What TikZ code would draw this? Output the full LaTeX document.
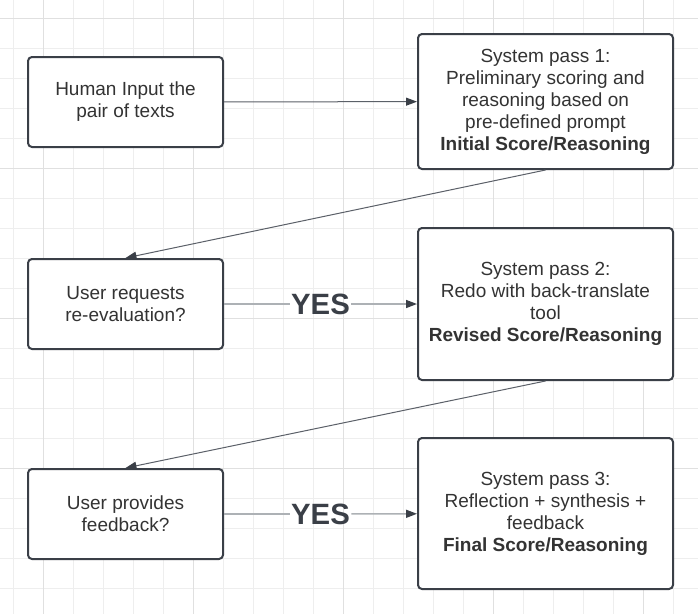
\documentclass[tikz,border=0pt]{standalone}
\usepackage{fontspec}
\setmainfont{Liberation Sans}
\usetikzlibrary{arrows.meta}
\definecolor{boxline}{HTML}{3A3F47}
\definecolor{linkline}{HTML}{5B6068}
\definecolor{yesgrey}{HTML}{ADB1B5}
\definecolor{textgrey}{HTML}{333333}
\definecolor{gridminor}{HTML}{EEEEEE}
\definecolor{gridmajor}{HTML}{E0E0E0}

\begin{document}
\begin{tikzpicture}[
  x=0.75pt, y=-0.75pt,
  mybox/.style={draw=boxline, line width=1.5pt, rounded corners=3pt, fill=white,
    text=textgrey, align=center, inner sep=0pt,
    font=\fontsize{14.25}{16.5}\selectfont},
  smallbox/.style={mybox, minimum width=146.25pt, minimum height=67.5pt},
  bigbox/.style={mybox, minimum width=191.25pt},
  mytip/.style={-{Triangle[length=8.25pt,width=6pt,color=boxline]}},
  myarrow/.style={draw=linkline, line width=0.75pt, mytip},
  yesline/.style={draw=yesgrey, line width=1.1pt},
  yeslabel/.style={text=boxline, inner xsep=1pt, inner ysep=2pt,
    font=\fontsize{22}{24}\selectfont\bfseries}
]

\useasboundingbox (0,0) rectangle (698,614);
\fill[white] (0,0) rectangle (698,614);

% background grid
\foreach \x in {13.3,43.3,...,690} \draw[gridminor, line width=0.75pt] (\x,0) -- (\x,614);
\foreach \y in {18.3,48.3,...,610} \draw[gridminor, line width=0.75pt] (0,\y) -- (698,\y);
\foreach \x in {43.3,193.3,343.3,493.3,643.3} \draw[gridmajor, line width=0.75pt] (\x,0) -- (\x,614);
\foreach \y in {18.3,168.3,318.3,468.3} \draw[gridmajor, line width=0.75pt] (0,\y) -- (698,\y);

% left column
\node[smallbox] (human) at (125.5,102) {Human Input the\\pair of texts};
\node[smallbox] (askre) at (125.5,304) {User requests\\re-evaluation?};
\node[smallbox] (askfb) at (125.5,514) {User provides\\feedback?};

% right column
\node[bigbox, minimum height=101.25pt] (pass1) at (545.5,101.5)
  {System pass 1:\\Preliminary scoring and\\reasoning based on\\pre-defined prompt\\\textbf{Initial Score/Reasoning}};
\node[bigbox, minimum height=114pt] (pass2) at (545.5,304)
  {System pass 2:\\Redo with back-translate\\tool\\\textbf{Revised Score/Reasoning}};
\node[bigbox, minimum height=113.25pt] (pass3) at (545.5,513.5)
  {System pass 3:\\Reflection + synthesis +\\feedback\\\textbf{Final Score/Reasoning}};

% yes labels
\node[yeslabel] (yesa) at (320.5,304) {YES};
\node[yeslabel] (yesb) at (320.5,514) {YES};

\draw[myarrow] (human) -- (pass1);
\draw[myarrow] (pass1.south) -- (askre.north);
\draw[myarrow] (pass2.south) -- (askfb.north);

\draw[yesline] (askre) -- (yesa);
\draw[yesline, mytip] (yesa) -- (pass2);
\draw[yesline] (askfb) -- (yesb);
\draw[yesline, mytip] (yesb) -- (pass3);

\end{tikzpicture}
\end{document}
